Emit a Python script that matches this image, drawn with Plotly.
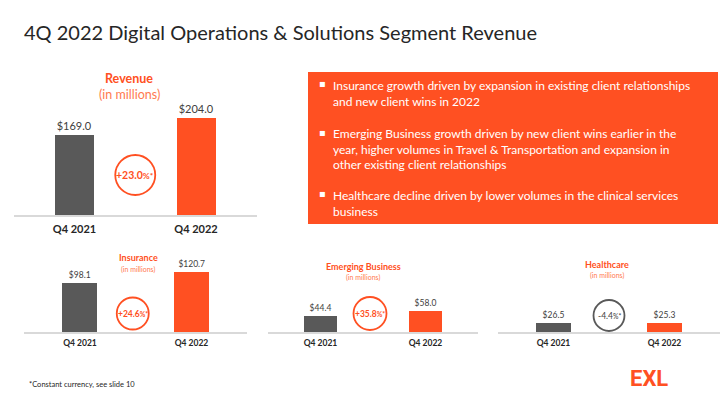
import plotly.graph_objects as go

W, H = 720, 405
ORANGE = "#FF5022"
GRAY = "#595959"
TXT = "#404040"
FONT = "Lato"

categories = ["Q4 2021", "Q4 2022"]
revenue = [169.0, 204.0]
insurance = [98.1, 120.7]
emerging = [44.4, 58.0]
healthcare = [26.5, 25.3]
growth_labels = ["+23.0", "+24.6", "+35.8", "-4.4"]
panel_titles = ["Revenue", "Insurance", "Emerging Business", "Healthcare"]
bullets = [
    "Insurance growth driven by expansion in existing client relationships<br>and new client wins in 2022",
    "Emerging Business growth driven by new client wins earlier in the<br>year, higher volumes in Travel &amp; Transportation and expansion in<br>other existing client relationships",
    "Healthcare decline driven by lower volumes in the clinical services<br>business",
]

def px_x(x):
    return x / W

def px_y(y):
    return 1 - y / H

panels = [
    dict(vals=revenue, xl=13.75, xr=256.75, base=215, top=115, ppu=0.474, bw=0.32, vf=11, tf=11,
         circ=(0, 175, 20), circ_color=ORANGE, gf=10.5, title_y=(78, 95), tsz=(12.5, 12.5), tx=129),
    dict(vals=insurance, xl=24.25, xr=247.25, base=332, top=252, ppu=0.5, bw=0.31, vf=8.5, tf=8.5,
         circ=(-3, 313.5, 16), circ_color=ORANGE, gf=8.5, title_y=(257, 269), tsz=(9, 7), tx=138),
    dict(vals=emerging, xl=268, xr=478, base=332, top=252, ppu=0.36, bw=0.315, vf=8.5, tf=8.5,
         circ=(-3, 313.5, 16.5), circ_color=ORANGE, gf=8.5, title_y=(266, 277), tsz=(9, 7), tx=363),
    dict(vals=healthcare, xl=498, xr=720, base=332, top=252, ppu=0.35, bw=0.315, vf=8.5, tf=8.5,
         circ=(0, 315.5, 15.5), circ_color="#595959", gf=8.5, title_y=(264, 275), tsz=(9, 7), tx=607),
]

fig = go.Figure()
shapes = []
annotations = []

def note(x, y, text, size, color, family=FONT, xanchor="center", yanchor="middle", **kw):
    d = dict(xref="paper", yref="paper", x=px_x(x), y=px_y(y), xanchor=xanchor, yanchor=yanchor,
             showarrow=False, text=text, font=dict(family=family, size=size, color=color))
    d.update(kw)
    annotations.append(d)

for i, p in enumerate(panels):
    n = "" if i == 0 else str(i + 1)
    xa, ya = "x" + n, "y" + n
    fig.add_trace(go.Bar(
        x=categories, y=p["vals"], marker=dict(color=[GRAY, ORANGE], line=dict(width=0)),
        width=p["bw"], text=[f"${v:.1f}" for v in p["vals"]], textposition="outside",
        textfont=dict(family=FONT, size=p["vf"], color=TXT), cliponaxis=False,
        xaxis=xa, yaxis=ya, showlegend=False, hoverinfo="skip",
    ))
    yrange = (p["base"] - p["top"]) / p["ppu"]
    fig.update_layout(**{
        ("xaxis" + n): dict(domain=[px_x(p["xl"]), px_x(p["xr"])], range=[-0.5, 1.5],
                            showline=True, linecolor="#D9D9D9", linewidth=1.5,
                            showgrid=False, zeroline=False, ticks="outside", ticklen=3 if i == 0 else 2,
                            tickcolor="rgba(0,0,0,0)", fixedrange=True,
                            tickvals=categories, ticktext=[f"<b>{c}</b>" for c in categories],
                            tickfont=dict(family=FONT, size=p["tf"], color="#262626"),
                            anchor=ya),
        ("yaxis" + n): dict(domain=[px_y(p["base"]), px_y(p["top"])], range=[0, yrange],
                            visible=False, showgrid=False, zeroline=False, anchor=xa),
    })
    dx, cy, r = p["circ"]
    cval = (p["base"] - cy) / p["ppu"]
    shapes.append(dict(type="circle", xref=xa, yref=ya, xsizemode="pixel", ysizemode="pixel",
                       xanchor=0.5, yanchor=cval, x0=dx - r, x1=dx + r, y0=-r, y1=r,
                       line=dict(color=p["circ_color"], width=1.8)))
    small = p["gf"] * 0.8
    if i < 3:
        gtext = f"<b>{growth_labels[i]}<span style='font-size:{small}px'>%*</span></b>"
        gcol = ORANGE
    else:
        gtext = f"{growth_labels[i]}<span style='font-size:{small}px'>%*</span>"
        gcol = "#404040"
    annotations.append(dict(xref=xa, yref=ya, x=0.5, y=cval, xshift=dx, showarrow=False,
                            xanchor="center", yanchor="middle", text=gtext,
                            font=dict(family=FONT, size=p["gf"], color=gcol)))
    t1, t2 = p["title_y"]
    s1, s2 = p["tsz"]
    note(p["tx"], t1, f"<b>{panel_titles[i]}</b>", s1, ORANGE)
    note(p["tx"], t2, "(in millions)", s2, "#FF7A50")

# orange commentary box
shapes.append(dict(type="rect", xref="paper", yref="paper", x0=px_x(308), x1=px_x(718),
                   y0=px_y(224), y1=px_y(72), fillcolor=ORANGE, line=dict(width=0), layer="below"))
bullet_tops = [76, 124, 186]
for t, b in zip(bullet_tops, bullets):
    note(331, t, b, 12, "white", xanchor="left", yanchor="top", align="left")
    note(322, t + 8, "▪", 10, "white", family="DejaVu Sans")

# title, footnote, logo
note(22, 32, "4Q 2022 Digital Operations &amp; Solutions Segment Revenue", 20, "#262626", xanchor="left")
note(27, 384, "*Constant currency, see slide 10", 7.5, "#262626", xanchor="left")
note(649, 378, "<b>EXL</b>", 22, ORANGE, family="Roboto")

fig.update_layout(width=W, height=H, margin=dict(l=0, r=0, t=0, b=0),
                  paper_bgcolor="white", plot_bgcolor="rgba(0,0,0,0)",
                  shapes=shapes, annotations=annotations, bargap=0)
fig.write_html("out.html", config={"displayModeBar": False})
